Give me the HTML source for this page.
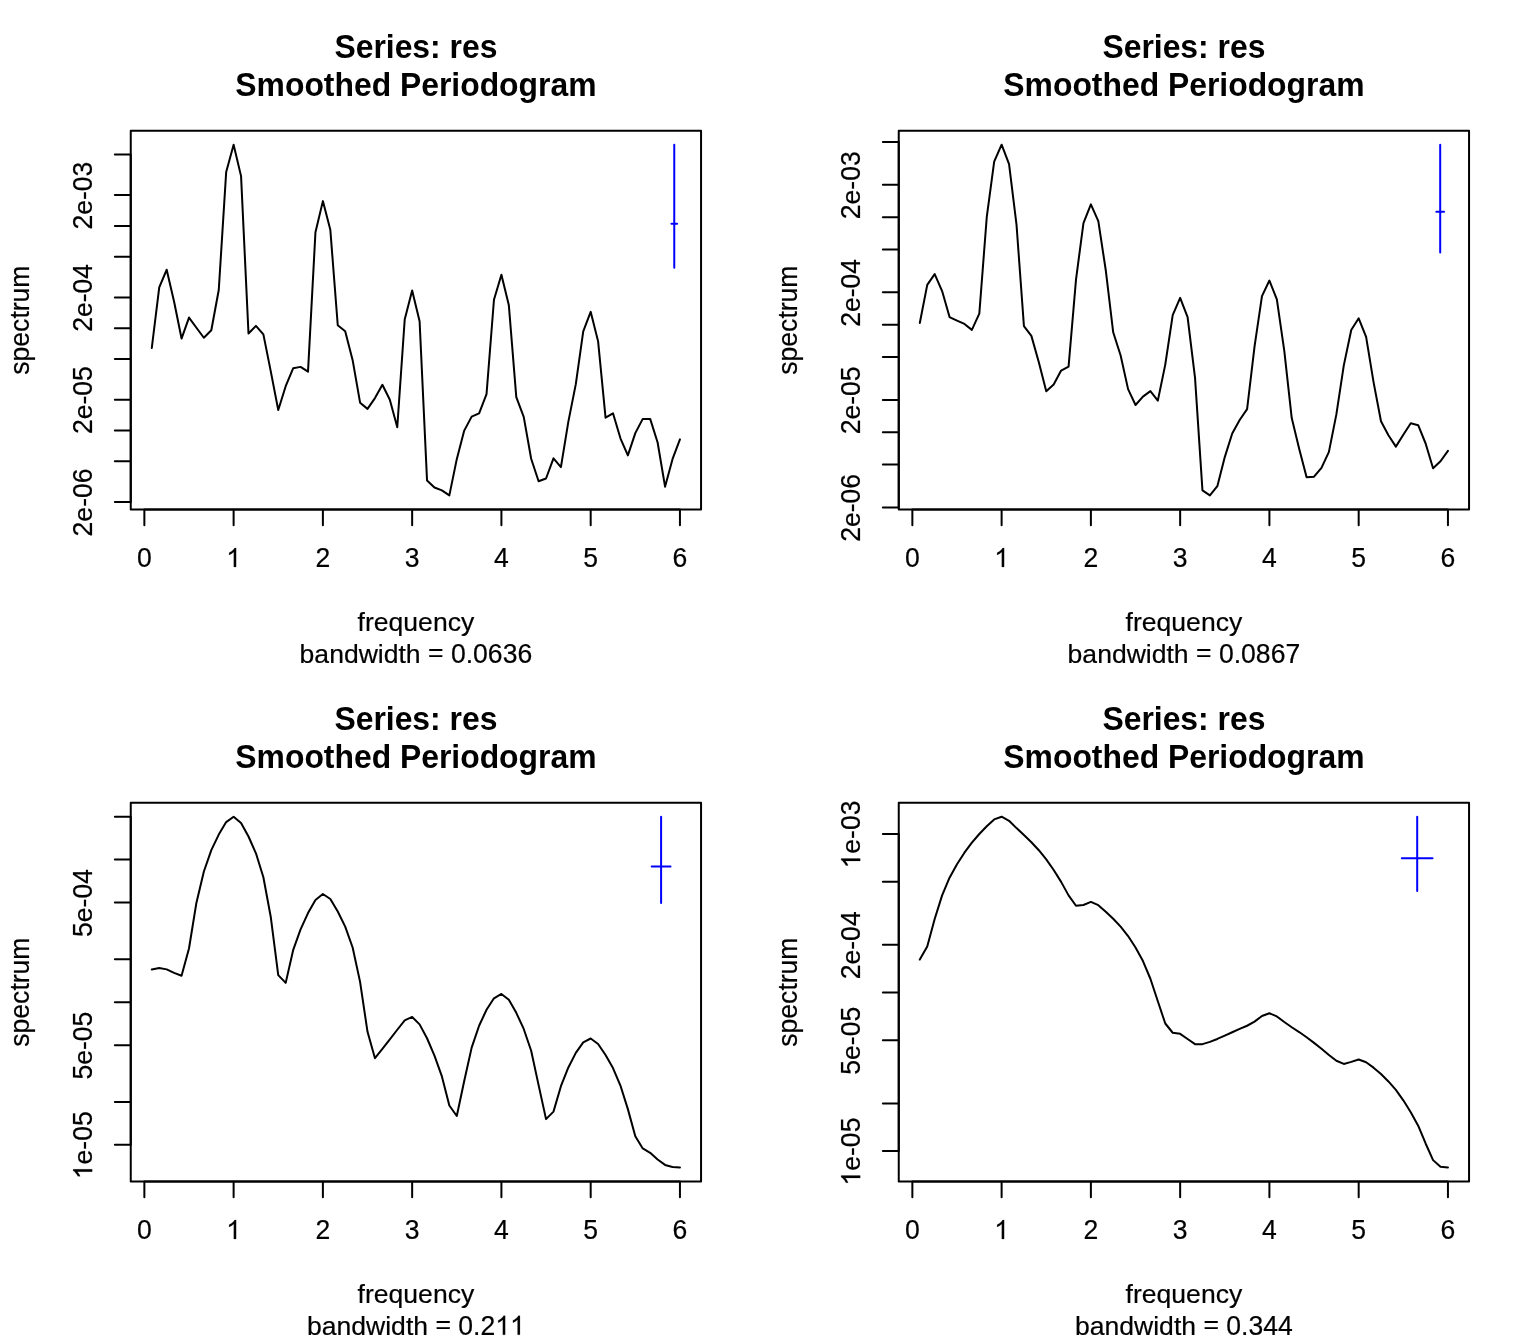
<!DOCTYPE html>
<html><head><meta charset="utf-8"><title>Smoothed Periodogram</title>
<style>
html,body{margin:0;padding:0;background:#fff;}
body{width:1536px;height:1344px;overflow:hidden;}
svg{display:block;will-change:transform;}
text{font-family:"Liberation Sans",sans-serif;fill:#000;stroke:#000;stroke-width:0.2px;font-kerning:none;white-space:pre;}
.t{font-size:26.56px;text-anchor:middle;}
.r{font-size:26.56px;text-anchor:start;}
.g1{fill:#000;stroke:#000;stroke-width:15;}
.m{font-size:31.87px;font-weight:bold;text-anchor:middle;stroke:none;}
.k{stroke:#000;stroke-width:2;fill:none;stroke-linecap:round;stroke-linejoin:round;}
.c{stroke:#00f;stroke-width:2;fill:none;stroke-linecap:round;}
</style></head><body>
<svg width="1536" height="1344" viewBox="0 0 1536 1344">
<rect x="0" y="0" width="1536" height="1344" fill="#fff"/>

<g transform="translate(0,0)">
<text class="m" transform="translate(415.9,57.9) scale(1,1.03)">Series: res</text>
<text class="m" transform="translate(415.9,96.1) scale(1,1.03)">Smoothed Periodogram</text>
<rect class="k" x="130.75" y="130.75" width="570.3" height="378.7"/>
<path class="k" d="M144.36 509.45H679.94M144.36 509.45V525.35M233.62 509.45V525.35M322.89 509.45V525.35M412.15 509.45V525.35M501.41 509.45V525.35M590.68 509.45V525.35M679.94 509.45V525.35"/>
<g transform="translate(144.36,567)"><text class="r" transform="translate(-7.39,0) scale(1,1.05)">0</text></g>
<g transform="translate(233.62,567)"><path class="g1" transform="translate(-7.39,0) scale(0.01297,-0.01297)" d="M763 0H583V1147Q518 1085 412.5 1023T223 930V1104Q373 1174.5 485.5 1275T645 1470H763Z"/></g>
<g transform="translate(322.89,567)"><text class="r" transform="translate(-7.39,0) scale(1,1.05)">2</text></g>
<g transform="translate(412.15,567)"><text class="r" transform="translate(-7.39,0) scale(1,1.05)">3</text></g>
<g transform="translate(501.41,567)"><text class="r" transform="translate(-7.39,0) scale(1,1.05)">4</text></g>
<g transform="translate(590.68,567)"><text class="r" transform="translate(-7.39,0) scale(1,1.05)">5</text></g>
<g transform="translate(679.94,567)"><text class="r" transform="translate(-7.39,0) scale(1,1.05)">6</text></g>
<path class="k" d="M130.75 154.4V502M130.75 154.4H114.85M130.75 195.11H114.85M130.75 225.9H114.85M130.75 256.7H114.85M130.75 297.41H114.85M130.75 328.2H114.85M130.75 358.99H114.85M130.75 399.7H114.85M130.75 430.5H114.85M130.75 461.29H114.85M130.75 502H114.85"/>
<g transform="translate(92.2,195.56) rotate(-90)"><text class="r" transform="translate(-33.97,0) scale(1,1.05)">2</text><text class="r" x="-19.19" y="0">e-</text><text class="r" transform="translate(4.42,0) scale(1,1.05)">03</text></g>
<g transform="translate(92.2,297.86) rotate(-90)"><text class="r" transform="translate(-33.97,0) scale(1,1.05)">2</text><text class="r" x="-19.19" y="0">e-</text><text class="r" transform="translate(4.42,0) scale(1,1.05)">04</text></g>
<g transform="translate(92.2,400.15) rotate(-90)"><text class="r" transform="translate(-33.97,0) scale(1,1.05)">2</text><text class="r" x="-19.19" y="0">e-</text><text class="r" transform="translate(4.42,0) scale(1,1.05)">05</text></g>
<g transform="translate(92.2,502.45) rotate(-90)"><text class="r" transform="translate(-33.97,0) scale(1,1.05)">2</text><text class="r" x="-19.19" y="0">e-</text><text class="r" transform="translate(4.42,0) scale(1,1.05)">06</text></g>
<text class="t" transform="translate(415.9,630.8)">frequency</text>
<g transform="translate(415.9,662.7)"><text class="r" x="-116.3" y="0">bandwidth&#160;</text><text class="r" x="12.17" y="-1.3">=</text><text class="r" x="27.68" y="0">&#160;</text><text class="r" transform="translate(35.06,0) scale(1,1.05)">0</text><text class="r" x="49.83" y="0">.</text><text class="r" transform="translate(57.21,0) scale(1,1.05)">0636</text></g>
<text class="t" transform="translate(28.6,320.1) rotate(-90) scale(1,1.02)">spectrum</text>
<polyline class="k" points="151.8,347.97 159.24,287.35 166.68,269.74 174.11,301.75 181.55,338.57 188.99,317.56 196.43,327.76 203.87,337.77 211.31,330.26 218.75,290.05 226.18,172.01 233.62,144.7 241.06,176.11 248.5,333.56 255.94,325.86 263.38,334.36 270.82,371.63 278.25,409.99 285.69,386.18 293.13,368.28 300.57,366.88 308.01,371.63 315.45,232.23 322.89,201.12 330.32,229.73 337.76,325.26 345.2,331.26 352.64,360.17 360.08,402.69 367.52,408.89 374.96,398.09 382.39,384.78 389.83,399.79 397.27,427.3 404.71,319.46 412.15,290.45 419.59,321.16 427.03,480.41 434.46,487.52 441.9,490.42 449.34,495.42 456.78,459.16 464.22,430.6 471.66,416.64 479.1,413.29 486.53,394.14 493.97,299.75 501.41,274.74 508.85,305.35 516.29,397.09 523.73,416.89 531.17,458.71 538.6,481.22 546.04,478.51 553.48,458.31 560.92,467.11 568.36,421.64 575.8,384.13 583.24,331.36 590.68,311.86 598.11,341.37 605.55,417.69 612.99,413.29 620.43,438.3 627.87,455.41 635.31,433.1 642.75,418.89 650.18,418.89 657.62,442.5 665.06,486.67 672.5,459.16 679.94,439.4"/>
<path class="c" d="M674.26 144.7V267.75M671.42 223.8H677.1"/>
</g>
<g transform="translate(768,0)">
<text class="m" transform="translate(415.9,57.9) scale(1,1.03)">Series: res</text>
<text class="m" transform="translate(415.9,96.1) scale(1,1.03)">Smoothed Periodogram</text>
<rect class="k" x="130.75" y="130.75" width="570.3" height="378.7"/>
<path class="k" d="M144.36 509.45H679.94M144.36 509.45V525.35M233.62 509.45V525.35M322.89 509.45V525.35M412.15 509.45V525.35M501.41 509.45V525.35M590.68 509.45V525.35M679.94 509.45V525.35"/>
<g transform="translate(144.36,567)"><text class="r" transform="translate(-7.39,0) scale(1,1.05)">0</text></g>
<g transform="translate(233.62,567)"><path class="g1" transform="translate(-7.39,0) scale(0.01297,-0.01297)" d="M763 0H583V1147Q518 1085 412.5 1023T223 930V1104Q373 1174.5 485.5 1275T645 1470H763Z"/></g>
<g transform="translate(322.89,567)"><text class="r" transform="translate(-7.39,0) scale(1,1.05)">2</text></g>
<g transform="translate(412.15,567)"><text class="r" transform="translate(-7.39,0) scale(1,1.05)">3</text></g>
<g transform="translate(501.41,567)"><text class="r" transform="translate(-7.39,0) scale(1,1.05)">4</text></g>
<g transform="translate(590.68,567)"><text class="r" transform="translate(-7.39,0) scale(1,1.05)">5</text></g>
<g transform="translate(679.94,567)"><text class="r" transform="translate(-7.39,0) scale(1,1.05)">6</text></g>
<path class="k" d="M130.75 142.05V507.4M130.75 142.05H114.85M130.75 184.84H114.85M130.75 217.2H114.85M130.75 249.57H114.85M130.75 292.36H114.85M130.75 324.73H114.85M130.75 357.09H114.85M130.75 399.88H114.85M130.75 432.25H114.85M130.75 464.61H114.85M130.75 507.4H114.85"/>
<g transform="translate(92.2,185.29) rotate(-90)"><text class="r" transform="translate(-33.97,0) scale(1,1.05)">2</text><text class="r" x="-19.19" y="0">e-</text><text class="r" transform="translate(4.42,0) scale(1,1.05)">03</text></g>
<g transform="translate(92.2,292.81) rotate(-90)"><text class="r" transform="translate(-33.97,0) scale(1,1.05)">2</text><text class="r" x="-19.19" y="0">e-</text><text class="r" transform="translate(4.42,0) scale(1,1.05)">04</text></g>
<g transform="translate(92.2,400.33) rotate(-90)"><text class="r" transform="translate(-33.97,0) scale(1,1.05)">2</text><text class="r" x="-19.19" y="0">e-</text><text class="r" transform="translate(4.42,0) scale(1,1.05)">05</text></g>
<g transform="translate(92.2,507.85) rotate(-90)"><text class="r" transform="translate(-33.97,0) scale(1,1.05)">2</text><text class="r" x="-19.19" y="0">e-</text><text class="r" transform="translate(4.42,0) scale(1,1.05)">06</text></g>
<text class="t" transform="translate(415.9,630.8)">frequency</text>
<g transform="translate(415.9,662.7)"><text class="r" x="-116.3" y="0">bandwidth&#160;</text><text class="r" x="12.17" y="-1.3">=</text><text class="r" x="27.68" y="0">&#160;</text><text class="r" transform="translate(35.06,0) scale(1,1.05)">0</text><text class="r" x="49.83" y="0">.</text><text class="r" transform="translate(57.21,0) scale(1,1.05)">0867</text></g>
<text class="t" transform="translate(28.6,320.1) rotate(-90) scale(1,1.02)">spectrum</text>
<polyline class="k" points="151.8,322.96 159.24,284.85 166.68,274.09 174.11,291.05 181.55,317.06 188.99,320.56 196.43,323.96 203.87,329.86 211.31,313.66 218.75,217.22 226.18,161.56 233.62,144.7 241.06,164.06 248.5,224.53 255.94,326.16 263.38,335.87 270.82,362.17 278.25,391.28 285.69,384.58 293.13,370.58 300.57,366.63 308.01,279.55 315.45,223.03 322.89,204.32 330.32,221.13 337.76,270.24 345.2,332.26 352.64,355.47 360.08,389.13 367.52,404.99 374.96,396.64 382.39,391.08 389.83,400.59 397.27,364.58 404.71,315.16 412.15,297.85 419.59,317.06 427.03,377.88 434.46,490.42 441.9,495.42 449.34,486.22 456.78,457.11 464.22,433.5 471.66,419.99 479.1,409.14 486.53,346.62 493.97,296.15 501.41,280.55 508.85,299.35 516.29,350.77 523.73,418.09 531.17,448.7 538.6,477.31 546.04,476.66 553.48,467.91 560.92,451.91 568.36,414.39 575.8,365.38 583.24,329.96 590.68,318.26 598.11,336.87 605.55,382.08 612.99,421.19 620.43,435.2 627.87,446.65 635.31,434.8 642.75,423.3 650.18,425.2 657.62,443.5 665.06,468.31 672.5,461.21 679.94,450.8"/>
<path class="c" d="M672.2 144.7V252.6M668.33 211.7H676.07"/>
</g>
<g transform="translate(0,672)">
<text class="m" transform="translate(415.9,57.9) scale(1,1.03)">Series: res</text>
<text class="m" transform="translate(415.9,96.1) scale(1,1.03)">Smoothed Periodogram</text>
<rect class="k" x="130.75" y="130.75" width="570.3" height="378.7"/>
<path class="k" d="M144.36 509.45H679.94M144.36 509.45V525.35M233.62 509.45V525.35M322.89 509.45V525.35M412.15 509.45V525.35M501.41 509.45V525.35M590.68 509.45V525.35M679.94 509.45V525.35"/>
<g transform="translate(144.36,567)"><text class="r" transform="translate(-7.39,0) scale(1,1.05)">0</text></g>
<g transform="translate(233.62,567)"><path class="g1" transform="translate(-7.39,0) scale(0.01297,-0.01297)" d="M763 0H583V1147Q518 1085 412.5 1023T223 930V1104Q373 1174.5 485.5 1275T645 1470H763Z"/></g>
<g transform="translate(322.89,567)"><text class="r" transform="translate(-7.39,0) scale(1,1.05)">2</text></g>
<g transform="translate(412.15,567)"><text class="r" transform="translate(-7.39,0) scale(1,1.05)">3</text></g>
<g transform="translate(501.41,567)"><text class="r" transform="translate(-7.39,0) scale(1,1.05)">4</text></g>
<g transform="translate(590.68,567)"><text class="r" transform="translate(-7.39,0) scale(1,1.05)">5</text></g>
<g transform="translate(679.94,567)"><text class="r" transform="translate(-7.39,0) scale(1,1.05)">6</text></g>
<path class="k" d="M130.75 144.7V472.8M130.75 144.7H114.85M130.75 187.62H114.85M130.75 230.55H114.85M130.75 287.29H114.85M130.75 330.21H114.85M130.75 373.14H114.85M130.75 429.88H114.85M130.75 472.8H114.85"/>
<g transform="translate(92.2,231) rotate(-90)"><text class="r" transform="translate(-33.97,0) scale(1,1.05)">5</text><text class="r" x="-19.19" y="0">e-</text><text class="r" transform="translate(4.42,0) scale(1,1.05)">04</text></g>
<g transform="translate(92.2,373.59) rotate(-90)"><text class="r" transform="translate(-33.97,0) scale(1,1.05)">5</text><text class="r" x="-19.19" y="0">e-</text><text class="r" transform="translate(4.42,0) scale(1,1.05)">05</text></g>
<g transform="translate(92.2,473.25) rotate(-90)"><path class="g1" transform="translate(-33.97,0) scale(0.01297,-0.01297)" d="M763 0H583V1147Q518 1085 412.5 1023T223 930V1104Q373 1174.5 485.5 1275T645 1470H763Z"/><text class="r" x="-19.19" y="0">e-</text><text class="r" transform="translate(4.42,0) scale(1,1.05)">05</text></g>
<text class="t" transform="translate(415.9,630.8)">frequency</text>
<g transform="translate(415.9,662.7)"><text class="r" x="-108.92" y="0">bandwidth&#160;</text><text class="r" x="19.56" y="-1.3">=</text><text class="r" x="35.07" y="0">&#160;</text><text class="r" transform="translate(42.45,0) scale(1,1.05)">0</text><text class="r" x="57.22" y="0">.</text><text class="r" transform="translate(64.6,0) scale(1,1.05)">2</text><path class="g1" transform="translate(79.37,0) scale(0.01297,-0.01297)" d="M763 0H583V1147Q518 1085 412.5 1023T223 930V1104Q373 1174.5 485.5 1275T645 1470H763Z"/><path class="g1" transform="translate(94.14,0) scale(0.01297,-0.01297)" d="M763 0H583V1147Q518 1085 412.5 1023T223 930V1104Q373 1174.5 485.5 1275T645 1470H763Z"/></g>
<text class="t" transform="translate(28.6,320.1) rotate(-90) scale(1,1.02)">spectrum</text>
<polyline class="k" points="151.8,297.57 159.24,296.07 166.68,297.37 174.11,300.86 181.55,303.76 188.99,276.52 196.43,230.68 203.87,199.49 211.31,178.19 218.75,162.6 226.18,150.1 233.62,144.7 241.06,150.9 248.5,164.5 255.94,181.29 263.38,205.29 270.82,245.28 278.25,303.16 285.69,310.86 293.13,278.17 300.57,257.37 308.01,241.08 315.45,227.98 322.89,221.98 330.32,226.98 337.76,239.48 345.2,254.67 352.64,275.47 360.08,309.86 367.52,359.85 374.96,386.24 382.39,376.95 389.83,367.35 397.27,357.75 404.71,348.45 412.15,344.95 419.59,352.35 427.03,366.25 434.46,383.55 441.9,404.44 449.34,433.53 456.78,443.98 464.22,408.99 471.66,375.65 479.1,353.75 486.53,337.76 493.97,326.26 501.41,321.96 508.85,327.76 516.29,340.86 523.73,356.95 531.17,378.75 538.6,413.14 546.04,447.13 553.48,439.63 560.92,414.24 568.36,395.44 575.8,380.85 583.24,370.45 590.68,366.5 598.11,371.95 605.55,382.95 612.99,396.04 620.43,413.54 627.87,437.13 635.31,464.23 642.75,476.47 650.18,480.82 657.62,487.52 665.06,492.92 672.5,495.02 679.94,495.42"/>
<path class="c" d="M661.1 144.7V230.9M651.69 194.5H670.51"/>
</g>
<g transform="translate(768,672)">
<text class="m" transform="translate(415.9,57.9) scale(1,1.03)">Series: res</text>
<text class="m" transform="translate(415.9,96.1) scale(1,1.03)">Smoothed Periodogram</text>
<rect class="k" x="130.75" y="130.75" width="570.3" height="378.7"/>
<path class="k" d="M144.36 509.45H679.94M144.36 509.45V525.35M233.62 509.45V525.35M322.89 509.45V525.35M412.15 509.45V525.35M501.41 509.45V525.35M590.68 509.45V525.35M679.94 509.45V525.35"/>
<g transform="translate(144.36,567)"><text class="r" transform="translate(-7.39,0) scale(1,1.05)">0</text></g>
<g transform="translate(233.62,567)"><path class="g1" transform="translate(-7.39,0) scale(0.01297,-0.01297)" d="M763 0H583V1147Q518 1085 412.5 1023T223 930V1104Q373 1174.5 485.5 1275T645 1470H763Z"/></g>
<g transform="translate(322.89,567)"><text class="r" transform="translate(-7.39,0) scale(1,1.05)">2</text></g>
<g transform="translate(412.15,567)"><text class="r" transform="translate(-7.39,0) scale(1,1.05)">3</text></g>
<g transform="translate(501.41,567)"><text class="r" transform="translate(-7.39,0) scale(1,1.05)">4</text></g>
<g transform="translate(590.68,567)"><text class="r" transform="translate(-7.39,0) scale(1,1.05)">5</text></g>
<g transform="translate(679.94,567)"><text class="r" transform="translate(-7.39,0) scale(1,1.05)">6</text></g>
<path class="k" d="M130.75 162.05V479.1M130.75 162.05H114.85M130.75 209.77H114.85M130.75 272.85H114.85M130.75 320.58H114.85M130.75 368.3H114.85M130.75 431.38H114.85M130.75 479.1H114.85"/>
<g transform="translate(92.2,162.5) rotate(-90)"><path class="g1" transform="translate(-33.97,0) scale(0.01297,-0.01297)" d="M763 0H583V1147Q518 1085 412.5 1023T223 930V1104Q373 1174.5 485.5 1275T645 1470H763Z"/><text class="r" x="-19.19" y="0">e-</text><text class="r" transform="translate(4.42,0) scale(1,1.05)">03</text></g>
<g transform="translate(92.2,273.3) rotate(-90)"><text class="r" transform="translate(-33.97,0) scale(1,1.05)">2</text><text class="r" x="-19.19" y="0">e-</text><text class="r" transform="translate(4.42,0) scale(1,1.05)">04</text></g>
<g transform="translate(92.2,368.75) rotate(-90)"><text class="r" transform="translate(-33.97,0) scale(1,1.05)">5</text><text class="r" x="-19.19" y="0">e-</text><text class="r" transform="translate(4.42,0) scale(1,1.05)">05</text></g>
<g transform="translate(92.2,479.55) rotate(-90)"><path class="g1" transform="translate(-33.97,0) scale(0.01297,-0.01297)" d="M763 0H583V1147Q518 1085 412.5 1023T223 930V1104Q373 1174.5 485.5 1275T645 1470H763Z"/><text class="r" x="-19.19" y="0">e-</text><text class="r" transform="translate(4.42,0) scale(1,1.05)">05</text></g>
<text class="t" transform="translate(415.9,630.8)">frequency</text>
<g transform="translate(415.9,662.7)"><text class="r" x="-108.92" y="0">bandwidth&#160;</text><text class="r" x="19.56" y="-1.3">=</text><text class="r" x="35.07" y="0">&#160;</text><text class="r" transform="translate(42.45,0) scale(1,1.05)">0</text><text class="r" x="57.22" y="0">.</text><text class="r" transform="translate(64.6,0) scale(1,1.05)">344</text></g>
<text class="t" transform="translate(28.6,320.1) rotate(-90) scale(1,1.02)">spectrum</text>
<polyline class="k" points="151.8,287.57 159.24,274.47 166.68,246.98 174.11,223.38 181.55,205.69 188.99,192.19 196.43,180.69 203.87,170.69 211.31,162 218.75,154.3 226.18,147.4 233.62,144.7 241.06,148.8 248.5,156.1 255.94,163 263.38,170.29 270.82,178.19 278.25,187.39 285.69,197.99 293.13,209.89 300.57,223.38 308.01,233.78 315.45,232.98 322.89,229.88 330.32,233.18 337.76,239.68 345.2,246.78 352.64,254.67 360.08,264.02 367.52,275.47 374.96,289.02 382.39,306.76 389.83,329.26 397.27,351.5 404.71,360.75 412.15,361.85 419.59,367.05 427.03,372.15 434.46,372.15 441.9,369.85 449.34,366.95 456.78,363.55 464.22,360.25 471.66,356.95 479.1,353.75 486.53,349.65 493.97,344 501.41,341.26 508.85,344.45 516.29,350.05 523.73,355.25 531.17,360.05 538.6,365.25 546.04,370.85 553.48,376.75 560.92,382.95 568.36,388.74 575.8,391.94 583.24,389.84 590.68,387.54 598.11,390.24 605.55,395.64 612.99,401.94 620.43,409.44 627.87,417.94 635.31,428.34 642.75,440.23 650.18,453.73 657.62,471.48 665.06,488.12 672.5,494.82 679.94,495.42"/>
<path class="c" d="M649.2 144.7V218.9M633.85 186.3H664.55"/>
</g>
</svg>
</body></html>
